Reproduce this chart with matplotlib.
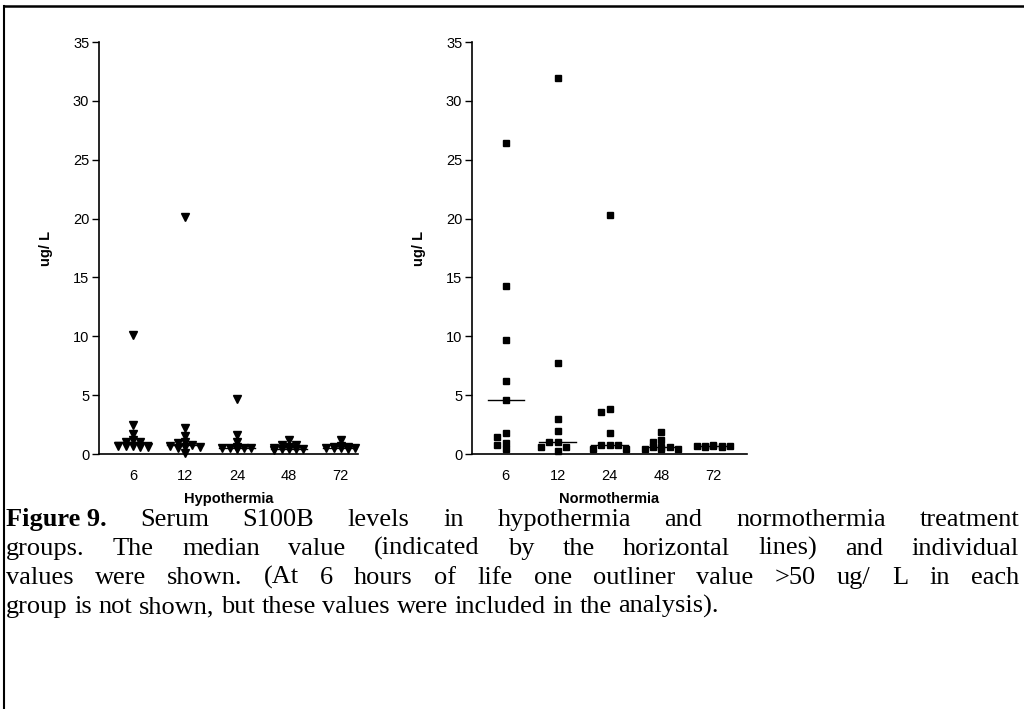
import matplotlib
matplotlib.use("Agg")
import matplotlib.pyplot as plt
from matplotlib.lines import Line2D
import numpy as np

plt.rcParams['font.family'] = ['Liberation Sans', 'DejaVu Sans']

hours = ["6", "12", "24", "48", "72"]

hypo_values = [
    [10.1, 2.5, 1.7, 1.2, 1.05, 1.0, 0.7, 0.6, 0.6, 0.7, 0.65],
    [20.1, 2.2, 1.5, 1.0, 0.9, 0.8, 0.7, 0.6, 0.6, 0.5, 0.05],
    [4.7, 1.6, 1.0, 0.6, 0.5, 0.5, 0.5, 0.45, 0.5, 0.5],
    [1.2, 0.8, 0.8, 0.6, 0.5, 0.4, 0.4, 0.4, 0.3, 0.4],
    [1.2, 0.7, 0.6, 0.5, 0.5, 0.5, 0.5, 0.4, 0.6],
]
hypo_medians = [1.0, 0.8, 0.5, 0.4, 0.5]

normo_values = [
    [26.4, 14.3, 9.66, 6.16, 4.57, 1.82, 1.48, 0.97, 0.74, 0.40],
    [31.9, 7.7, 3.0, 1.96, 1.02, 1.02, 0.63, 0.63, 0.26],
    [20.3, 3.86, 3.58, 1.82, 0.77, 0.77, 0.77, 0.40, 0.40],
    [1.9, 1.22, 1.05, 0.6, 0.6, 0.6, 0.45, 0.45, 0.45],
    [0.75, 0.72, 0.7, 0.7, 0.65, 0.65, 0.6, 0.6],
]
normo_medians = [4.57, 1.02, 0.74, 0.6, 0.65]

caption_lines = [
    ("Figure 9.", " Serum S100B levels in hypothermia and normothermia treatment", True),
    ("", "groups. The median value (indicated by the horizontal lines) and individual", True),
    ("", "values were shown. (At 6 hours of life one outliner value >50 ug/ L in each", True),
    ("", "group is not shown, but these values were included in the analysis).", False),
]

W, H = 1024, 709
fig = plt.figure(figsize=(W / 100, H / 100), dpi=100)


def swarm_offsets(vals, step, ythresh, kmax=2):
    order = np.argsort(vals)[::-1]
    placed = []
    offs = np.zeros(len(vals))
    cands = [0]
    for k in range(1, kmax + 1):
        cands += [-k, k]
    for i in order:
        v = vals[i]
        best, bestd = None, -1
        chosen = None
        for c in cands:
            ds = [abs(pv - v) for pc, pv in placed if pc == c]
            d = min(ds) if ds else 1e9
            if d >= ythresh:
                chosen = c
                break
            if d > bestd:
                best, bestd = c, d
        if chosen is None:
            chosen = best
        placed.append((chosen, v))
        offs[i] = chosen * step
    return offs


def panel(rect, values, medians, marker, ms, step, ythr, xlim, xlabel):
    ax = fig.add_axes(rect)
    for i, vals in enumerate(values):
        vals = np.array(vals)
        offs = swarm_offsets(vals, step, ythr)
        ax.plot(i + offs, vals, linestyle='none', marker=marker, ms=ms,
                color='black', mec='black', clip_on=False)
        ax.plot([i - 0.35, i + 0.35], [medians[i], medians[i]], color='black', lw=1.0)
    ax.set_xlim(*xlim)
    ax.set_ylim(0, 35)
    ax.set_yticks(range(0, 36, 5))
    ax.set_xticks(range(len(hours)))
    ax.set_xticklabels(hours)
    ax.tick_params(axis='x', length=0, pad=11, labelsize=10.5)
    ax.tick_params(axis='y', length=5, width=1, direction='out', pad=2, labelsize=10.5)
    for s in ['top', 'right']:
        ax.spines[s].set_visible(False)
    for s in ['left', 'bottom']:
        ax.spines[s].set_linewidth(1.2)
    ax.set_ylabel("ug/ L", fontweight='bold', fontsize=10.5, labelpad=14)
    ax.set_xlabel(xlabel, fontweight='bold', fontsize=10.5, labelpad=6)
    return ax


panel([99 / W, 1 - 454 / H, 259 / W, 412 / H], hypo_values, hypo_medians,
      'v', 5.5, 0.14, 0.4, (-0.654, 4.33), "Hypothermia")
panel([472 / W, 1 - 454 / H, 275 / W, 412 / H], normo_values, normo_medians,
      's', 4.2, 0.16, 0.4, (-0.65, 4.65), "Normothermia")

# outer frame (left and top edges)
fig.add_artist(Line2D([4 / W, 4 / W], [0, 1 - 6 / H], color='black', lw=1.5))
fig.add_artist(Line2D([4 / W, 1.0], [1 - 6 / H, 1 - 6 / H], color='black', lw=1.8))

# caption with justification
fig.canvas.draw()
renderer = fig.canvas.get_renderer()
serif = ['Liberation Serif', 'DejaVu Serif']
fs = 19
x0, x1 = 6, 1019
baselines = [526, 555, 584, 613]
ta = fig.text(0, 0, "a a", family=serif, fontsize=fs)
tb = fig.text(0, 0, "aa", family=serif, fontsize=fs)
space_w = ta.get_window_extent(renderer).width - tb.get_window_extent(renderer).width
ta.remove()
tb.remove()
for (bold, rest, justify), yb in zip(caption_lines, baselines):
    words = []
    if bold:
        words.append((bold, 'bold'))
    for w in rest.split():
        words.append((w, 'normal'))
    texts = []
    widths = []
    for w, wt in words:
        t = fig.text(0, 1 - yb / H, w, family=serif, fontsize=fs, fontweight=wt,
                     va='baseline', ha='left')
        bb = t.get_window_extent(renderer)
        texts.append(t)
        widths.append(bb.width)
    if justify:
        gap = (x1 - x0 - sum(widths)) / (len(words) - 1)
    else:
        gap = space_w
    x = x0
    for t, wd in zip(texts, widths):
        t.set_x(x / W)
        x += wd + gap

fig.savefig("out.png", dpi=100)
